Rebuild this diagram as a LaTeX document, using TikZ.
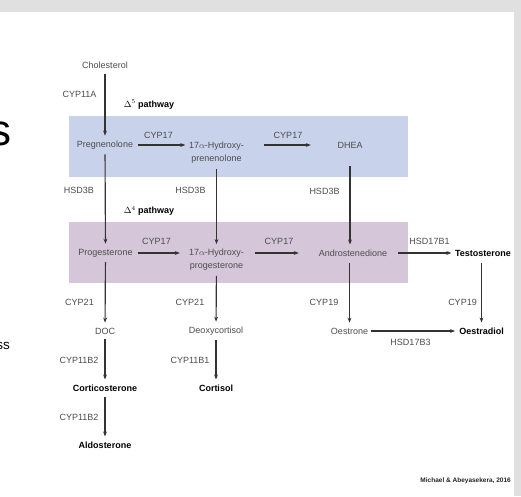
\documentclass[tikz,border=0pt]{standalone}
\usepackage{fontspec}
\setmainfont{Liberation Sans}
\usetikzlibrary{arrows.meta}
\definecolor{pathblue}{HTML}{C8D2EA}
\definecolor{pathmauve}{HTML}{D5C6DA}
\definecolor{txtgray}{HTML}{4D4D4D}
\definecolor{linegray}{HTML}{333333}
\definecolor{framegray}{HTML}{E0E0E0}
\tikzset{>={Stealth[length=5pt,width=3.8pt]}}

\begin{document}
\begin{tikzpicture}[x=1pt,y=-1pt,
    mol/.style={inner sep=2pt, text=txtgray, align=center, font=\fontsize{9}{13}\selectfont},
    prod/.style={inner sep=2pt, text=black, font=\fontsize{9}{13}\selectfont\bfseries},
    enz/.style={inner sep=0pt, text=txtgray, font=\fontsize{9}{11}\selectfont},
    route/.style={inner sep=0pt, text=black, font=\fontsize{9}{11}\selectfont},
    flow/.style={->, draw=linegray, line width=1.15pt, shorten >=3pt, shorten <=3pt}]
    \useasboundingbox (0,0) rectangle (521,496);
    \clip (0,0) rectangle (521,496);
    % slide frame
    \fill[white] (0,0) rectangle (521,496);
    \fill[framegray] (0,0) rectangle (521,12);
    \fill[framegray] (514,12) rectangle (521,496);
    \node[anchor=base east, inner sep=0pt, font=\fontsize{44}{44}\selectfont] (titletail) at (12,145) {s};
    \node[anchor=base east, inner sep=0pt, text=black, font=\fontsize{13.5}{14}\selectfont] (bullettail) at (10,349) {ss};
    % pathway bands
    \fill[pathblue] (69,116) rectangle (407.5,177);
    \fill[pathmauve] (69,222) rectangle (407.5,283);
    % steroids
    \node[mol] (chol) at (105,65) {Cholesterol};
    \node[mol] (preg) at (105,145) {Pregnenolone};
    \node[mol] (ohpreg) at (216.5,153) {17$\alpha$-Hydroxy-\\prenenolone};
    \node[mol] (dhea) at (350,145) {DHEA};
    \node[mol] (prog) at (105.5,253) {Progesterone};
    \node[mol] (ohprog) at (216.5,260) {17$\alpha$-Hydroxy-\\progesterone};
    \node[mol] (andro) at (353,253) {Androstenedione};
    \node[prod] (testo) at (483,253) {Testosterone};
    \node[mol] (doc) at (105,331) {DOC};
    \node[mol] (deoxy) at (216,331) {Deoxycortisol};
    \node[mol] (oestrone) at (349.5,331) {Oestrone};
    \node[prod] (oestradiol) at (481.5,331) {Oestradiol};
    \node[prod] (cortico) at (105,388) {Corticosterone};
    \node[prod] (cortisol) at (216,388) {Cortisol};
    \node[prod] (aldo) at (105,445) {Aldosterone};
    % enzymes and pathway labels
    \node[enz] (cyp11a) at (79.5,94) {CYP11A};
    \node[route] (delta5) at (149,104.5) {$\Delta^5$ \textbf{pathway}};
    \node[enz] (cyp17a) at (158.5,135) {CYP17};
    \node[enz] (cyp17b) at (288,135) {CYP17};
    \node[enz] (hsd3ba) at (79,190) {HSD3B};
    \node[enz] (hsd3bb) at (190.5,190) {HSD3B};
    \node[enz] (hsd3bc) at (324.5,191) {HSD3B};
    \node[route] (delta4) at (149,211) {$\Delta^4$ \textbf{pathway}};
    \node[enz] (cyp17c) at (156.5,241) {CYP17};
    \node[enz] (cyp17d) at (279,241) {CYP17};
    \node[enz] (hsd17b1) at (429.5,241) {HSD17B1};
    \node[enz] (cyp21a) at (79.5,302) {CYP21};
    \node[enz] (cyp21b) at (190,302) {CYP21};
    \node[enz] (cyp19a) at (324,302) {CYP19};
    \node[enz] (cyp19b) at (462.5,302) {CYP19};
    \node[enz] (hsd17b3) at (410.5,342) {HSD17B3};
    \node[enz] (cyp11b2a) at (79,360) {CYP11B2};
    \node[enz] (cyp11b1) at (190,360) {CYP11B1};
    \node[enz] (cyp11b2b) at (79,417) {CYP11B2};
    \node[anchor=east, inner sep=0pt, text=black!85, font=\fontsize{6.5}{7}\selectfont\bfseries] (credit) at (511,481) {Michael \& Abeyasekera, 2016};
    % vertical steps
    \draw[flow] (chol) -- (preg);
    \draw[flow] (preg) -- (prog);
    \draw[flow] (ohpreg) -- (ohprog);
    \draw[flow, shorten <=16pt] (dhea) -- (dhea |- andro.north);
    \draw[flow] (prog) -- (doc);
    \draw[flow] (ohprog) -- (deoxy);
    \draw[flow, shorten <=4.5pt] (oestrone |- andro.south) -- (oestrone);
    \draw[flow, shorten <=4.5pt] (oestradiol |- testo.south) -- (oestradiol);
    \draw[flow] (doc) -- (cortico);
    \draw[flow] (deoxy) -- (cortisol);
    \draw[flow] (cortico) -- (aldo);
    % horizontal steps
    \draw[flow, shorten >=1.5pt] (preg) -- (preg -| ohpreg.west);
    \draw[flow, shorten <=18pt, shorten >=24.5pt] (preg -| ohpreg.east) -- (dhea);
    \draw[flow, shorten >=7pt] (prog) -- (prog -| ohprog.west);
    \draw[flow, shorten <=9pt, shorten >=18pt] (prog -| ohprog.east) -- (andro);
    \draw[flow, shorten <=9pt, shorten >=1.5pt] (andro) -- (testo);
    \draw[flow, shorten <=0.5pt, shorten >=2pt] (oestrone) -- (oestradiol);
\end{tikzpicture}
\end{document}
